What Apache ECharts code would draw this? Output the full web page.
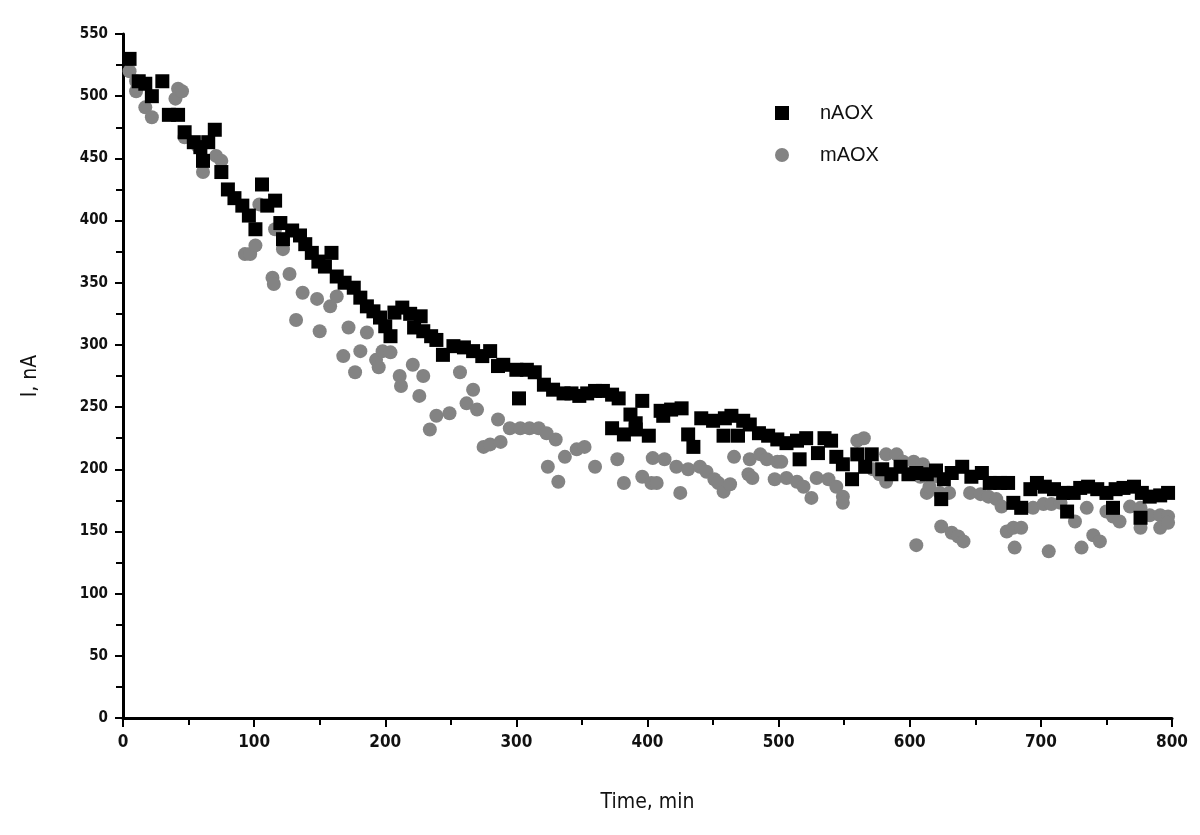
<!DOCTYPE html>
<html>
<head>
<meta charset="utf-8">
<script src="https://cdn.jsdelivr.net/npm/echarts@6/dist/echarts.min.js"></script>
<style>
  html, body { margin: 0; padding: 0; background: #fff; }
  #chart { width: 1200px; height: 835px; }
</style>
</head>
<body>
<div id="chart"></div>
<script>
// nAOX — black squares, [time (min), current (nA)]
const nAOX = [
  [5,530],[12,512],[17,510],[22,500],[30,512],[35,485],[42,485],[47,471],[54,463],[59,459],
  [61,448],[65,463],[70,473],[75,439],[80,425],[85,418],[91,412],[96,404],[101,393],[106,429],
  [110,412],[116,416],[120,398],[122,385],[129,392],[135,388],[139,381],[144,374],[149,367],[154,363],
  [159,374],[163,355],[169,350],[176,346],[181,338],[186,331],[191,327],[196,322],[200,315],[204,307],
  [207,326],[213,330],[219,325],[222,314],[227,323],[229,311],[235,307],[239,304],[244,292],[252,299],
  [260,298],[267,295],[274,291],[280,295],[286,283],[290,284],[300,280],[302,257],[308,280],[314,278],
  [321,268],[328,264],[336,261],[342,261],[348,259],[354,261],[360,263],[366,263],[373,260],[373,233],
  [378,257],[382,228],[387,244],[391,237],[391,232],[396,255],[401,227],[410,247],[412,243],[418,248],
  [426,249],[431,228],[435,218],[441,241],[450,239],[458,227],[459,241],[464,243],[469,227],[473,239],
  [478,236],[485,229],[492,227],[499,224],[506,221],[514,223],[516,208],[521,225],[530,213],[535,225],
  [540,223],[544,210],[549,204],[556,192],[560,212],[566,202],[571,212],[579,200],[586,196],[593,202],
  [599,196],[605,197],[613,196],[620,199],[624,176],[626,192],[632,197],[640,202],[647,194],[655,197],
  [661,189],[669,189],[675,189],[679,173],[685,169],[692,184],[697,189],[703,186],[710,184],[717,181],
  [720,166],[725,181],[730,185],[736,186],[743,184],[750,181],[755,169],[757,184],[763,185],[771,186],
  [776,161],[777,181],[783,178],[791,179],[797,181]
];

// mAOX — grey circles
const mAOX = [
  [5,520],[10,512],[10,504],[17,491],[22,483],[40,498],[42,506],[45,504],[47,467],[57,460],
  [61,439],[71,452],[75,448],[93,373],[97,373],[101,380],[104,413],[114,354],[115,349],[116,393],
  [122,377],[127,357],[132,320],[137,342],[148,337],[150,311],[158,331],[163,339],[168,291],[172,314],
  [177,278],[181,295],[186,310],[193,288],[195,282],[198,295],[204,294],[211,275],[212,267],[221,284],
  [226,259],[229,275],[234,232],[239,243],[249,245],[257,278],[262,253],[267,264],[270,248],[275,218],
  [280,220],[286,240],[288,222],[295,233],[303,233],[310,233],[317,233],[323,229],[324,202],[330,224],
  [332,190],[337,210],[346,216],[352,218],[360,202],[377,208],[382,189],[396,194],[403,189],[404,209],
  [407,189],[413,208],[422,202],[425,181],[431,200],[440,202],[445,198],[451,192],[454,189],[458,182],
  [463,188],[466,210],[477,196],[478,208],[480,193],[486,212],[491,208],[497,192],[499,206],[502,206],
  [506,193],[514,190],[519,186],[525,177],[529,193],[538,192],[544,186],[549,178],[549,173],[560,223],
  [565,225],[572,200],[577,196],[582,190],[582,212],[590,212],[595,206],[603,206],[605,139],[608,194],
  [610,204],[613,181],[615,186],[618,194],[623,181],[624,154],[630,181],[632,149],[637,146],[641,142],
  [646,181],[654,180],[660,178],[666,176],[670,170],[674,150],[679,153],[680,137],[685,153],[694,169],
  [702,172],[706,134],[708,172],[715,173],[726,158],[731,137],[735,169],[740,147],[745,142],[750,166],
  [755,162],[760,158],[768,170],[776,169],[776,153],[783,163],[791,163],[791,153],[797,162],[797,157]
];

const seriesNames = ['nAOX', 'mAOX'];

const chart = echarts.init(document.getElementById('chart'));

const axisFont = 'DejaVu Sans Condensed';

const option = {
  animation: false,
  backgroundColor: '#fff',
  grid: { left: 123, right: 28, top: 34, bottom: 117 },
  legend: {
    orient: 'vertical',
    left: 770,
    top: 98,
    itemGap: 22,
    itemWidth: 14,
    itemHeight: 14,
    textStyle: {
      fontFamily: 'Liberation Sans',
      fontSize: 20,
      color: '#111',
      padding: [0, 0, 0, 26]
    },
    data: [
      { name: seriesNames[0], icon: 'rect' },
      { name: seriesNames[1], icon: 'circle' }
    ]
  },
  xAxis: {
    type: 'value',
    min: 0,
    max: 800,
    interval: 100,
    name: 'Time, min',
    nameLocation: 'middle',
    nameGap: 74,
    nameTextStyle: { fontFamily: axisFont, fontSize: 21, color: '#111' },
    axisLine: { lineStyle: { color: '#000', width: 3 } },
    axisTick: { length: 9, lineStyle: { color: '#000', width: 2 } },
    minorTick: { show: true, splitNumber: 2, length: 7, lineStyle: { color: '#000', width: 2 } },
    axisLabel: { margin: 16, fontFamily: axisFont, fontWeight: 'bold', fontSize: 17, color: '#111' },
    splitLine: { show: false }
  },
  yAxis: {
    type: 'value',
    min: 0,
    max: 550,
    interval: 50,
    name: 'I, nA',
    nameLocation: 'middle',
    nameGap: 82,
    nameTextStyle: { fontFamily: axisFont, fontSize: 21, color: '#111' },
    axisLine: { lineStyle: { color: '#000', width: 3 } },
    axisTick: { length: 8, lineStyle: { color: '#000', width: 2 } },
    minorTick: { show: true, splitNumber: 2, length: 7, lineStyle: { color: '#000', width: 2 } },
    axisLabel: { margin: 15, fontFamily: axisFont, fontWeight: 'bold', fontSize: 15, color: '#111' },
    splitLine: { show: false }
  },
  series: [
    {
      name: seriesNames[0],
      type: 'scatter',
      symbol: 'rect',
      symbolSize: 14,
      z: 3,
      itemStyle: { color: '#000', opacity: 1 },
      data: nAOX
    },
    {
      name: seriesNames[1],
      type: 'scatter',
      symbol: 'circle',
      symbolSize: 14,
      z: 2,
      itemStyle: { color: '#838383', opacity: 1 },
      data: mAOX
    }
  ]
};

chart.setOption(option);
</script>
</body>
</html>
